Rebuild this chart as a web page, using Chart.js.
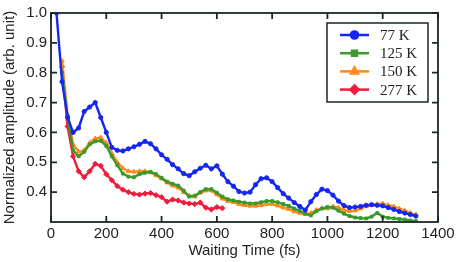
<!DOCTYPE html>
<html>
<head>
<meta charset="utf-8">
<script src="https://cdn.jsdelivr.net/npm/chart.js@4.4.1/dist/chart.umd.min.js"></script>
<style>
  body { margin: 0; background: #fff; }
  #wrap { width: 463px; height: 262px; }
</style>
</head>
<body>
<div id="wrap"><canvas id="myChart" width="463" height="262"></canvas></div>
<script>
// waiting time (fs), one point every 20 fs
const times = [20, 40, 60, 80, 100, 120, 140, 160, 180, 200, 220, 240, 260, 280, 300, 320, 340, 360, 380, 400,
    420, 440, 460, 480, 500, 520, 540, 560, 580, 600, 620, 640, 660, 680, 700, 720, 740, 760, 780, 800,
    820, 840, 860, 880, 900, 920, 940, 960, 980, 1000, 1020, 1040, 1060, 1080, 1100, 1120, 1140, 1160, 1180, 1200,
    1220, 1240, 1260, 1280, 1300, 1320];

const amp77 = [1.00, 0.77, 0.65, 0.60, 0.615, 0.67, 0.685, 0.70, 0.65, 0.60, 0.55, 0.54, 0.538, 0.545, 0.552, 0.56, 0.57, 0.562, 0.545, 0.525,
    0.51, 0.492, 0.478, 0.462, 0.455, 0.468, 0.48, 0.49, 0.478, 0.488, 0.46, 0.435, 0.42, 0.402, 0.397, 0.40, 0.425, 0.445, 0.448, 0.435,
    0.415, 0.395, 0.38, 0.365, 0.352, 0.34, 0.368, 0.392, 0.41, 0.405, 0.39, 0.37, 0.355, 0.348, 0.35, 0.352, 0.356, 0.358, 0.356, 0.354,
    0.348, 0.342, 0.335, 0.33, 0.325, 0.32];

const amp125 = [null, 0.80, 0.655, 0.54, 0.52, 0.535, 0.56, 0.57, 0.572, 0.555, 0.52, 0.49, 0.462, 0.452, 0.45, 0.46, 0.465, 0.468, 0.46, 0.448,
    0.435, 0.428, 0.422, 0.405, 0.385, 0.388, 0.40, 0.41, 0.41, 0.398, 0.385, 0.376, 0.372, 0.368, 0.365, 0.362, 0.362, 0.366, 0.37, 0.37,
    0.366, 0.36, 0.354, 0.345, 0.337, 0.328, 0.322, 0.336, 0.345, 0.35, 0.348, 0.338, 0.328, 0.32, 0.315, 0.313, 0.312, 0.318, 0.33, 0.318,
    0.314, 0.312, 0.31, 0.308, 0.305, 0.303];

const amp150 = [null, 0.84, 0.66, 0.56, 0.535, 0.54, 0.565, 0.58, 0.583, 0.565, 0.53, 0.50, 0.48, 0.47, 0.468, 0.47, 0.47, 0.466, 0.456, 0.445,
    0.432, 0.422, 0.415, 0.40, 0.388, 0.385, 0.398, 0.405, 0.405, 0.392, 0.378, 0.37, 0.366, 0.36, 0.356, 0.354, 0.354, 0.356, 0.36, 0.36,
    0.355, 0.348, 0.343, 0.335, 0.33, 0.326, 0.33, 0.34, 0.346, 0.345, 0.352, 0.348, 0.34, 0.336, 0.338, 0.345, 0.352, 0.356, 0.36, 0.362,
    0.356, 0.352, 0.345, 0.338, 0.33, 0.325];

const amp277 = [null, 0.82, 0.62, 0.52, 0.47, 0.45, 0.47, 0.495, 0.488, 0.46, 0.44, 0.42, 0.408, 0.40, 0.394, 0.392, 0.395, 0.397, 0.39, 0.383,
    0.368, 0.375, 0.372, 0.365, 0.362, 0.36, 0.365, 0.348, 0.342, 0.35, 0.346];

const seriesNames = ['77 K', '125 K', '150 K', '277 K'];
const seriesColors = ['#1626f2', '#3a9a2c', '#ff8a1c', '#f01c3c'];
const seriesMarkers = ['circle', 'rect', 'triangle', 'rectRot'];
const seriesSizes = [2.1, 2, 2.5, 2.6];

const xTicks = [0, 200, 400, 600, 800, 1000, 1200, 1400];
const yTicks = [0.4, 0.5, 0.6, 0.7, 0.8, 0.9, 1.0];

Chart.defaults.font.family = "'Liberation Sans', Arial, sans-serif";
Chart.defaults.color = '#222';

function toPoints(vals) {
    let pts = [];
    vals.forEach((v, i) => {
        if (v !== null) pts.push({x: times[i], y: v});
    });
    return pts;
}

const allSeries = [amp77, amp125, amp150, amp277];

// inward ticks on all four sides plus the frame
const frameTicks = {
    id: 'frameTicks',
    afterDraw(chart) {
        const ctx = chart.ctx;
        const a = chart.chartArea;
        const xs = chart.scales.x, ys = chart.scales.y;
        ctx.save();
        ctx.strokeStyle = '#1b2626';
        ctx.lineWidth = 1.8;
        ctx.strokeRect(a.left, a.top, a.right - a.left, a.bottom - a.top);
        ctx.beginPath();
        xTicks.forEach(t => {
            let px = xs.getPixelForValue(t);
            ctx.moveTo(px, a.bottom); ctx.lineTo(px, a.bottom - 6);
            ctx.moveTo(px, a.top); ctx.lineTo(px, a.top + 6);
        });
        yTicks.forEach(t => {
            let py = ys.getPixelForValue(t);
            ctx.moveTo(a.left, py); ctx.lineTo(a.left + 6, py);
            ctx.moveTo(a.right, py); ctx.lineTo(a.right - 6, py);
        });
        ctx.stroke();
        ctx.restore();
    }
};

// boxed legend in the upper right
const boxLegend = {
    id: 'boxLegend',
    afterDraw(chart) {
        const ctx = chart.ctx;
        const a = chart.chartArea;
        const bx = a.right - 111, by = a.top + 10, bw = 101, bh = 79;
        ctx.save();
        ctx.strokeStyle = '#1b2626';
        ctx.lineWidth = 1.5;
        ctx.strokeRect(bx, by, bw, bh);
        chart.data.datasets.forEach((ds, i) => {
            let cy = by + 12 + i * 18.2;
            ctx.strokeStyle = ds.borderColor;
            ctx.lineWidth = 2.5;
            ctx.beginPath();
            ctx.moveTo(bx + 13, cy);
            ctx.lineTo(bx + 42, cy);
            ctx.stroke();
            ctx.fillStyle = ds.borderColor;
            Chart.helpers.drawPoint(ctx, {
                pointStyle: ds.pointStyle, radius: ds.pointRadius + 1.5, borderWidth: 1, rotation: 0
            }, bx + 27.5, cy);
            ctx.fillStyle = '#222';
            ctx.font = "15px 'Liberation Serif', 'Times New Roman', serif";
            ctx.textBaseline = 'middle';
            ctx.textAlign = 'left';
            ctx.fillText(ds.label, bx + 53, cy + 1);
        });
        ctx.restore();
    }
};

let ctx = document.getElementById('myChart');
let myChart = new Chart(ctx, {
    type: 'line',
    data: {
        datasets: allSeries.map((vals, i) => ({
            label: seriesNames[i],
            data: toPoints(vals),
            borderColor: seriesColors[i],
            backgroundColor: seriesColors[i],
            pointStyle: seriesMarkers[i],
            pointRadius: seriesSizes[i],
            pointBorderWidth: 1,
            borderWidth: 2.4,
            tension: 0,
            fill: false
        }))
    },
    options: {
        responsive: false,
        animation: false,
        layout: { padding: { left: 0, top: 13, right: 25, bottom: 0 } },
        plugins: {
            legend: { display: false },
            tooltip: { enabled: false }
        },
        scales: {
            x: {
                type: 'linear',
                min: 0,
                max: 1400,
                afterFit(scale) { scale.height = 40; },
                afterBuildTicks(scale) { scale.ticks = xTicks.map(v => ({value: v})); },
                grid: { display: false, drawTicks: false },
                border: { display: false },
                ticks: {
                    padding: 3,
                    font: { size: 15 },
                    maxRotation: 0,
                    autoSkip: false,
                    callback: v => String(v)
                },
                title: {
                    display: true,
                    text: 'Waiting Time (fs)',
                    font: { size: 15 },
                    padding: { top: 0, bottom: 2 }
                }
            },
            y: {
                min: 0.3,
                max: 1.0,
                afterFit(scale) { scale.width = 51; },
                afterBuildTicks(scale) { scale.ticks = yTicks.map(v => ({value: v})); },
                grid: { display: false, drawTicks: false },
                border: { display: false },
                ticks: {
                    padding: 4,
                    font: { size: 15 },
                    callback: v => v.toFixed(1)
                },
                title: {
                    display: true,
                    text: 'Normalized amplitude (arb. unit)',
                    font: { size: 15 },
                    padding: { top: 1, bottom: 0 }
                }
            }
        }
    },
    plugins: [frameTicks, boxLegend]
});
</script>
</body>
</html>
